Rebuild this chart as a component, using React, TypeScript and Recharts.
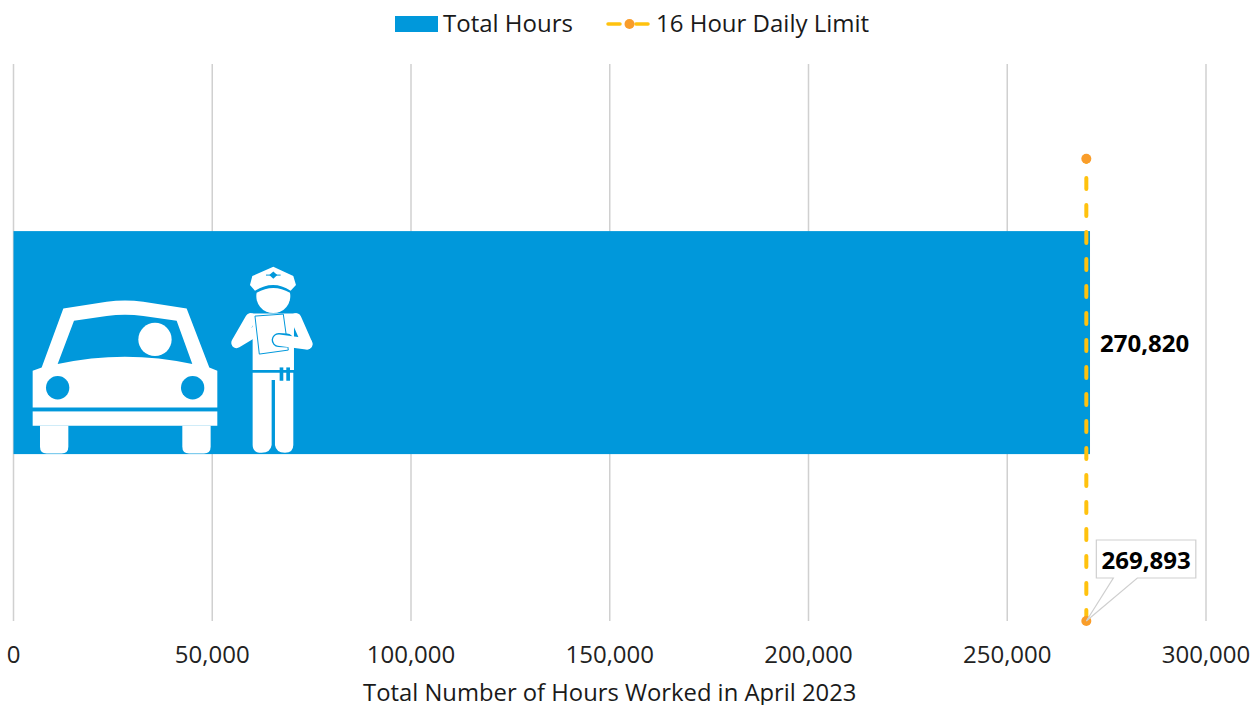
import { Bar, CartesianGrid, ComposedChart, LabelList, Legend, Scatter, XAxis, YAxis } from 'recharts'

const categories = ['April 2023']
const totalHours = [270820]
const limitHours = [269893, 269893]
const limitLevels = [0, 0.83]
const limitCallouts = [269893, undefined]
const xTicks = [0, 50000, 100000, 150000, 200000, 250000, 300000]

const BLUE = '#0098DB'
const YELLOW = '#FFC20E'
const ORANGE = '#F99D2A'
const FONT = '"Open Sans", sans-serif'

const barData = categories.map((name, i) => ({ name, hours: totalHours[i] }))
const limitData = limitHours.map((limit, i) => ({
  limit,
  level: limitLevels[i],
  callout: limitCallouts[i]
}))

function formatNumber(v: number): string {
  return v.toLocaleString('en-US')
}

function ChartLegend() {
  return (
    <div style={{ position: 'relative', height: 64, fontFamily: FONT, fontSize: 24, color: '#1a1a1a' }}>
      <svg width={1252} height={48} style={{ position: 'absolute', left: 0, top: 0 }}>
        <rect x={395} y={16} width={43} height={16} fill={BLUE} />
        <line x1={608} x2={620} y1={24} y2={24} stroke={YELLOW} strokeWidth={3.5} strokeLinecap="round" />
        <line x1={636} x2={648} y1={24} y2={24} stroke={YELLOW} strokeWidth={3.5} strokeLinecap="round" />
        <circle cx={629.5} cy={24} r={5} fill={ORANGE} />
      </svg>
      <span style={{ position: 'absolute', left: 443, top: 6, lineHeight: '34px' }}>Total Hours</span>
      <span style={{ position: 'absolute', left: 656, top: 6, lineHeight: '34px' }}>16 Hour Daily Limit</span>
    </div>
  )
}

function LimitDot(props: any) {
  return <circle cx={props.cx} cy={props.cy} r={5} fill={ORANGE} />
}

function BarValue(props: any) {
  return (
    <text
      x={props.x + props.width + 10}
      y={props.y + props.height / 2 + 3}
      dominantBaseline="middle"
      fontFamily={FONT}
      fontSize={24}
      fontWeight={700}
      fill="#000"
    >
      {formatNumber(props.value)}
    </text>
  )
}

function LimitCallout(props: any) {
  if (props.value == null) return null
  const tipX = props.x + props.width / 2
  const tipY = props.y + props.height / 2
  const left = tipX + 10
  const top = tipY - 81
  const w = 99.5
  const h = 38
  return (
    <g>
      <path
        d={`M${left},${top} h${w} v${h} H${left + 41} L${tipX},${tipY} L${left + 17},${top + h} H${left} Z`}
        fill="#fff"
        stroke="#cfcfcf"
        strokeWidth={1.2}
      />
      <text
        x={left + w / 2}
        y={top + h / 2 + 4}
        textAnchor="middle"
        dominantBaseline="middle"
        fontFamily={FONT}
        fontSize={24}
        fontWeight={700}
        fill="#000"
      >
        {formatNumber(props.value)}
      </text>
    </g>
  )
}

// car and officer pictograms, traced in 3x crop coordinates
function Pictograms() {
  return (
    <g transform="scale(0.3333)">
      <path d="M130,175 L260,155 Q315,147 370,155 L500,175 L568,352 L592,362 V472 H38 V362 L65,352 Z" fill="#fff" />
      <path d="M162,212 L260,198 Q315,190 370,198 L470,212 L517,342 Q315,298 113,342 Z" fill={BLUE} />
      <circle cx={405} cy={268} r={50} fill="#fff" />
      <circle cx={113} cy={413} r={35} fill={BLUE} />
      <circle cx={518} cy={413} r={35} fill={BLUE} />
      <rect x={38} y={484} width={554} height={43} fill="#fff" />
      <path d="M60,527 H145 V590 Q145,610 125,610 H80 Q60,610 60,590 Z" fill="#fff" />
      <path d="M487,527 H572 V590 Q572,610 552,610 H507 Q487,610 487,590 Z" fill="#fff" />

      <path d="M760,50 L820,78 L828,105 L812,122 Q760,88 705,122 L690,105 L697,78 Z" fill="#fff" />
      <path d="M760,64 L772,75 L760,86 L748,75 Z" fill={BLUE} />
      <path d="M738,75 H782" stroke={BLUE} strokeWidth={3} />
      <path d="M710,128 Q760,100 810,128 A51,51 0 1 1 710,128 Z" fill="#fff" />
      <path d="M695,190 H825 L822,240 V360 H698 V240 Z" fill="#fff" />
      <path d="M692,205 L650,278 L705,245" stroke="#fff" strokeWidth={32} strokeLinecap="round" strokeLinejoin="round" fill="none" />
      <path d="M828,205 L862,282" stroke="#fff" strokeWidth={32} strokeLinecap="round" fill="none" />
      <path d="M705,198 L790,192 L805,300 L718,312 Z" fill="#fff" stroke={BLUE} strokeWidth={3} />
      <path d="M776,270 L800,271" stroke={BLUE} strokeWidth={42} strokeLinecap="round" />
      <path d="M776,270 L860,281" stroke="#fff" strokeWidth={34} strokeLinecap="round" />
      <path d="M698,368 H820 V585 Q820,608 795,608 Q768,608 765,585 V390 H755 V585 Q752,608 725,608 Q698,608 698,585 Z" fill="#fff" />
      <rect x={779} y={352} width={11} height={40} fill={BLUE} />
      <rect x={799} y={352} width={11} height={40} fill={BLUE} />
    </g>
  )
}

function HoursBar(props: any) {
  return (
    <g>
      <rect x={props.x} y={props.y} width={props.width} height={props.height} fill={BLUE} />
      <g transform={`translate(${props.x + 6.5} ${props.y + 19})`}>
        <Pictograms />
      </g>
    </g>
  )
}

export default function App() {
  return (
    <div style={{ position: 'absolute', left: 0, top: 0, width: 1252, height: 705, background: '#fff' }}>
      <ComposedChart
        width={1252}
        height={705}
        layout="vertical"
        data={barData}
        barCategoryGap="30%"
        margin={{ top: 0, right: 46, bottom: 0, left: 13.5 }}
      >
        <CartesianGrid horizontal={false} stroke="#d0d0d0" strokeWidth={1.5} yAxisId="cat" />
        <XAxis
          type="number"
          domain={[0, 300000]}
          ticks={xTicks}
          tickFormatter={formatNumber}
          axisLine={false}
          tickLine={false}
          height={84}
          tickMargin={19}
          interval={0}
          tick={{ fontFamily: FONT, fontSize: 24, fill: '#222' }}
          label={{
            value: 'Total Number of Hours Worked in April 2023',
            position: 'insideBottom',
            offset: 4,
            fontFamily: FONT,
            fontSize: 23.8,
            fill: '#1a1a1a'
          }}
        />
        <YAxis yAxisId="cat" type="category" dataKey="name" hide />
        <YAxis yAxisId="limit" type="number" dataKey="level" domain={[0, 1]} reversed hide />
        <Legend
          verticalAlign="top"
          height={64}
          wrapperStyle={{ left: 0, width: 1252 }}
          content={<ChartLegend />}
        />
        <Bar yAxisId="cat" dataKey="hours" fill={BLUE} shape={<HoursBar />} isAnimationActive={false}>
          <LabelList dataKey="hours" content={<BarValue />} />
        </Bar>
        <Scatter
          yAxisId="limit"
          data={limitData}
          dataKey="limit"
          line={{ stroke: YELLOW, strokeWidth: 4, strokeDasharray: '11 16', strokeLinecap: 'round' }}
          shape={<LimitDot />}
          isAnimationActive={false}
        >
          <LabelList dataKey="callout" content={<LimitCallout />} />
        </Scatter>
      </ComposedChart>
    </div>
  )
}
